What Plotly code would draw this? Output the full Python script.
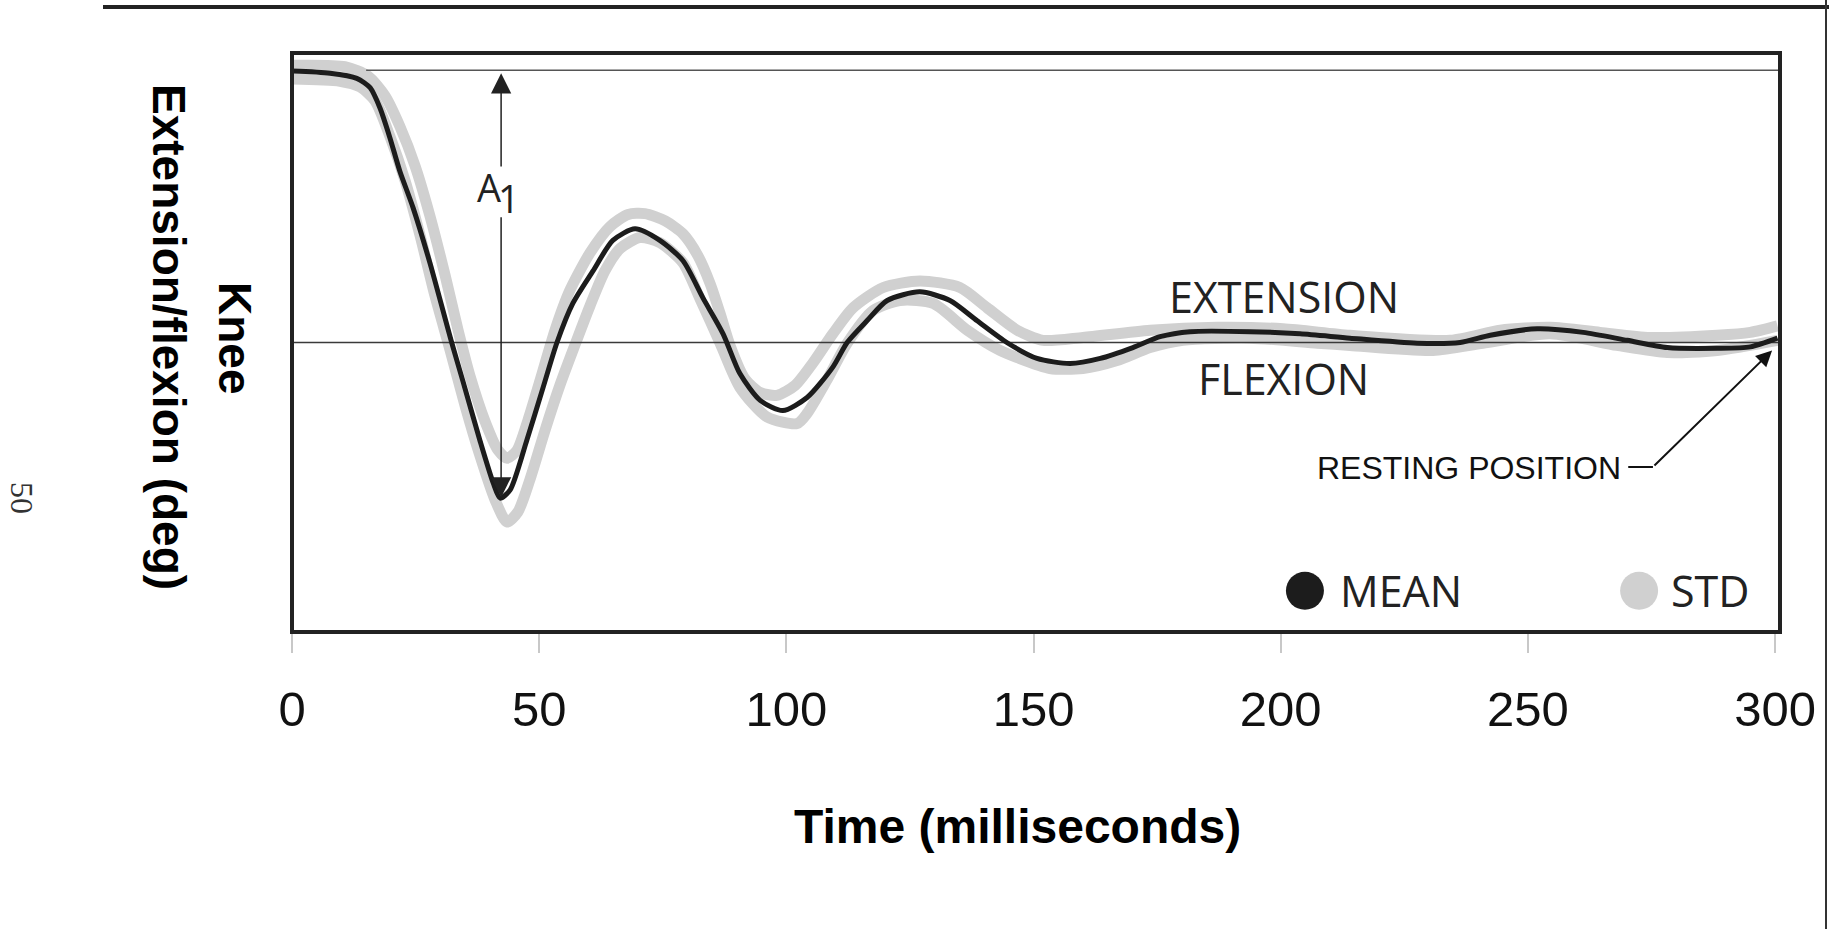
import plotly.graph_objects as go

# ---- data ----
time_mean = [0, 7.7, 13.1, 15.8, 17.8, 19.8, 21.8, 24.5, 27.9, 32.3, 34.6, 38.0, 40.7, 42.1, 44.1,
             47.5, 50.8, 53.6, 56.8, 60.9, 64.9, 69.4, 74.4, 79.1, 83.1, 87.2, 90.6, 94.7, 99.3,
             104.2, 109.4, 112.3, 116.3, 120.4, 127.0, 133.1, 138.6, 144.6, 150.7, 157.4, 163.5,
             170.1, 175.6, 181.7, 193.8, 203.9, 214.0, 227.6, 236.3, 242.4, 251.9, 261.2, 270.1,
             278.2, 288.3, 295.0, 300.5]
knee_mean = [37.5, 37.2, 36.5, 35.2, 32.4, 28.3, 23.7, 18.6, 11.0, 0, -5.4, -13.5, -19.4, -21.5, -20.4,
             -13.5, -6.2, 0, 5.4, 9.9, 14.1, 15.7, 14.1, 11.3, 6.2, 1.2, -4.3, -8.0, -9.4,
             -7.6, -3.4, 0, 3.0, 5.8, 7.0, 5.8, 3.0, 0, -2.2, -2.9, -2.2,
             -0.7, 0.8, 1.5, 1.5, 1.2, 0.6, -0.1, 0, 1.0, 1.9, 1.4, 0.3,
             -0.7, -0.8, -0.6, 0.6]

time_upper = [0, 10.7, 15.4, 18.8, 21.8, 24.9, 27.9, 31.0, 33.6, 36.0, 39.0, 41.7, 43.5, 45.5, 47.7,
              50.2, 53.2, 56.2, 60.3, 64.3, 68.0, 71.4, 75.5, 79.1, 82.1, 84.6, 86.6, 88.6, 91.6,
              94.7, 98.1, 101.8, 105.4, 109.4, 113.5, 119.6, 127.0, 135.1, 140.6, 146.7, 151.9,
              160.0, 173.6, 187.1, 200.5, 214.0, 234.3, 244.4, 254.5, 264.6, 274.7, 288.3, 295.0, 300.5]
knee_upper = [38.3, 38.1, 36.8, 34.1, 29.9, 24.4, 17.5, 9.2, 1.7, -4.6, -10.8, -14.9, -16.0, -14.9, -10.8,
              -5.2, 1.7, 7.2, 12.4, 16.0, 17.7, 17.8, 16.8, 15.0, 12.0, 8.1, 4.0, -0.4, -5.0,
              -6.9, -7.3, -5.9, -2.8, 1.2, 4.8, 7.6, 8.5, 7.6, 4.8, 1.7, 0.3,
              0.7, 1.7, 2.1, 1.9, 1.0, 0.3, 1.7, 2.1, 1.4, 0.7, 1.0, 1.4, 2.3]

time_lower = [0, 9.7, 13.8, 16.8, 19.8, 22.9, 25.9, 28.9, 32.0, 35.0, 38.0, 41.1, 43.5, 45.7, 48.1,
              51.2, 54.2, 57.2, 60.3, 63.3, 66.4, 70.4, 74.4, 79.1, 82.5, 86.6, 90.6, 96.1, 102.2,
              104.2, 108.2, 112.3, 117.5, 123.0, 129.7, 136.6, 143.2, 146.7, 153.3, 160.0, 166.9,
              173.6, 180.2, 193.8, 207.4, 214.0, 230.8, 240.9, 254.5, 268.0, 278.2, 288.3, 300.5]
knee_lower = [36.4, 36.1, 35.3, 33.4, 28.5, 22.3, 14.8, 6.5, -1.1, -8.7, -15.6, -21.8, -24.8, -23.4, -19.0,
              -12.1, -5.9, -0.4, 5.1, 9.9, 13.0, 14.5, 13.8, 11.0, 6.1, -0.1, -6.2, -10.3, -11.2,
              -9.8, -5.2, -0.1, 4.4, 5.8, 5.4, 1.7, -1.1, -2.1, -3.6, -3.6, -2.5,
              -0.7, 0.3, 0.6, -0.1, -0.4, -1.1, -0.1, 1.2, -0.4, -1.4, -1.1, 0.3]

x_ticks = [0, 50, 100, 150, 200, 250, 300]
x_range = [0, 301]
y_range = [-40, 40]
rest_level = 0
initial_level = 37.6
initial_line_start = 15
a1_time = 42.3
a1_top, a1_bottom = 37.2, -21.4
a1_gap_top, a1_gap_bottom = 24.1, 17.5

legend_y = -34.3
legend_mean_t, legend_std_t = 204.9, 272.5

GRAY = "#d0d0d0"
BLACK = "#1c1c1c"

fig = go.Figure()

# STD curves (thick light gray)
fig.add_trace(go.Scatter(x=time_upper, y=knee_upper, mode="lines",
                         line=dict(color=GRAY, width=11, shape="spline", smoothing=0.7),
                         showlegend=False, hoverinfo="skip"))
fig.add_trace(go.Scatter(x=time_lower, y=knee_lower, mode="lines",
                         line=dict(color=GRAY, width=11, shape="spline", smoothing=0.7),
                         showlegend=False, hoverinfo="skip"))
# reference lines
fig.add_trace(go.Scatter(x=x_range, y=[rest_level, rest_level], mode="lines",
                         line=dict(color="#3a3a3a", width=1.5), showlegend=False, hoverinfo="skip"))
fig.add_trace(go.Scatter(x=[initial_line_start, x_range[1]], y=[initial_level, initial_level], mode="lines",
                         line=dict(color="#555555", width=1.5), showlegend=False, hoverinfo="skip"))
# MEAN curve
fig.add_trace(go.Scatter(x=time_mean, y=knee_mean, mode="lines",
                         line=dict(color=BLACK, width=5, shape="spline", smoothing=0.7),
                         showlegend=False))
# legend dots
fig.add_trace(go.Scatter(x=[legend_mean_t, legend_std_t], y=[legend_y, legend_y], mode="markers",
                         marker=dict(size=38, color=[BLACK, GRAY], line=dict(width=0)),
                         showlegend=False, hoverinfo="skip"))

L, R, T, B = 292, 49, 53, 297
W, H = 1829, 929
pw, ph = W - L - R, H - T - B

def px(xp):
    return (xp - L) / pw

def py(yp):
    return (H - B - yp) / ph

ann = []
sans = "Open Sans"
arial = "Liberation Sans, Arial"
ann.append(dict(text="EXTENSION", x=200.7, y=6.3, xref="x", yref="y", showarrow=False,
                font=dict(family=sans, size=43, color="#222")))
ann.append(dict(text="FLEXION", x=200.5, y=-5.0, xref="x", yref="y", showarrow=False,
                font=dict(family=sans, size=43, color="#222")))
ann.append(dict(text="MEAN", x=211.6, y=legend_y, xref="x", yref="y", xanchor="left", showarrow=False,
                font=dict(family=sans, size=43, color="#222")))
ann.append(dict(text="STD", x=278.6, y=legend_y, xref="x", yref="y", xanchor="left", showarrow=False,
                font=dict(family=sans, size=43, color="#222")))
ann.append(dict(text="RESTING POSITION", x=238.0, y=-17.4, xref="x", yref="y", showarrow=False,
                font=dict(family=arial, size=32, color="#111")))
# resting position arrow
ann.append(dict(text="", x=299.4, y=-1.1, ax=275.3, ay=-17.2, xref="x", yref="y", axref="x", ayref="y",
                showarrow=True, arrowhead=2, arrowsize=1.6, arrowwidth=2, arrowcolor="#111"))
# A1 double arrow (two halves around the label)
ann.append(dict(text="", x=a1_time, y=a1_top, ax=a1_time, ay=a1_gap_top, xref="x", yref="y",
                axref="x", ayref="y", showarrow=True, arrowhead=2, arrowsize=2.7, arrowwidth=1.5,
                arrowcolor="#222"))
ann.append(dict(text="", x=a1_time, y=a1_bottom, ax=a1_time, ay=a1_gap_bottom, xref="x", yref="y",
                axref="x", ayref="y", showarrow=True, arrowhead=2, arrowsize=2.7, arrowwidth=1.5,
                arrowcolor="#222"))
ann.append(dict(text="A", x=39.9, y=21.45, xref="x", yref="y", showarrow=False,
                font=dict(family=sans, size=38, color="#222")))
ann.append(dict(text="1", x=43.9, y=19.9, xref="x", yref="y", showarrow=False,
                font=dict(family=sans, size=38, color="#222")))
# axis titles
ann.append(dict(text="<b>Time (milliseconds)</b>", x=px(1017), y=py(826), xref="paper", yref="paper",
                xanchor="center", yanchor="middle",
                showarrow=False, font=dict(family=arial, size=48, color="#000")))
ann.append(dict(text="<b>Knee</b>", x=px(235), y=py(338), xref="paper", yref="paper", textangle=90,
                xanchor="center", yanchor="middle",
                showarrow=False, font=dict(family=arial, size=46, color="#000")))
ann.append(dict(text="<b>Extension/flexion (deg)</b>", x=px(169), y=py(337), xref="paper", yref="paper",
                xanchor="center", yanchor="middle",
                textangle=90, showarrow=False, font=dict(family=arial, size=46, color="#000")))
ann.append(dict(text="50", x=px(22), y=py(498), xref="paper", yref="paper", textangle=90,
                xanchor="center", yanchor="middle",
                showarrow=False, font=dict(family="Liberation Serif, DejaVu Serif, serif", size=32, color="#333")))

shapes = [
    dict(type="rect", xref="paper", yref="paper", x0=0, x1=1, y0=0, y1=1,
         line=dict(color="#222", width=4), layer="above"),
    dict(type="line", xref="x", yref="y", x0=270.3, x1=275.3, y0=-17.2, y1=-17.2,
         line=dict(color="#111", width=2)),
    # page rules
    dict(type="line", xref="paper", yref="paper", x0=px(103), x1=px(1829), y0=py(7), y1=py(7),
         line=dict(color="#222", width=4)),
    dict(type="line", xref="paper", yref="paper", x0=px(1826), x1=px(1826), y0=py(0), y1=py(929),
         line=dict(color="#333", width=2)),
]

fig.update_layout(
    width=W, height=H, margin=dict(l=L, r=R, t=T, b=B, pad=0),
    paper_bgcolor="white", plot_bgcolor="white",
    annotations=ann, shapes=shapes, showlegend=False,
    xaxis=dict(range=x_range, tickvals=x_ticks, ticks="outside", ticklen=20, tickwidth=1.5,
               tickcolor="#c8c8c8", showgrid=False, zeroline=False, showline=False,
               tickfont=dict(family=arial, size=49, color="#111"), ticklabelstandoff=14),
    yaxis=dict(range=y_range, showticklabels=False, ticks="", showgrid=False, zeroline=False,
               showline=False),
)

fig.write_html("out.html")
